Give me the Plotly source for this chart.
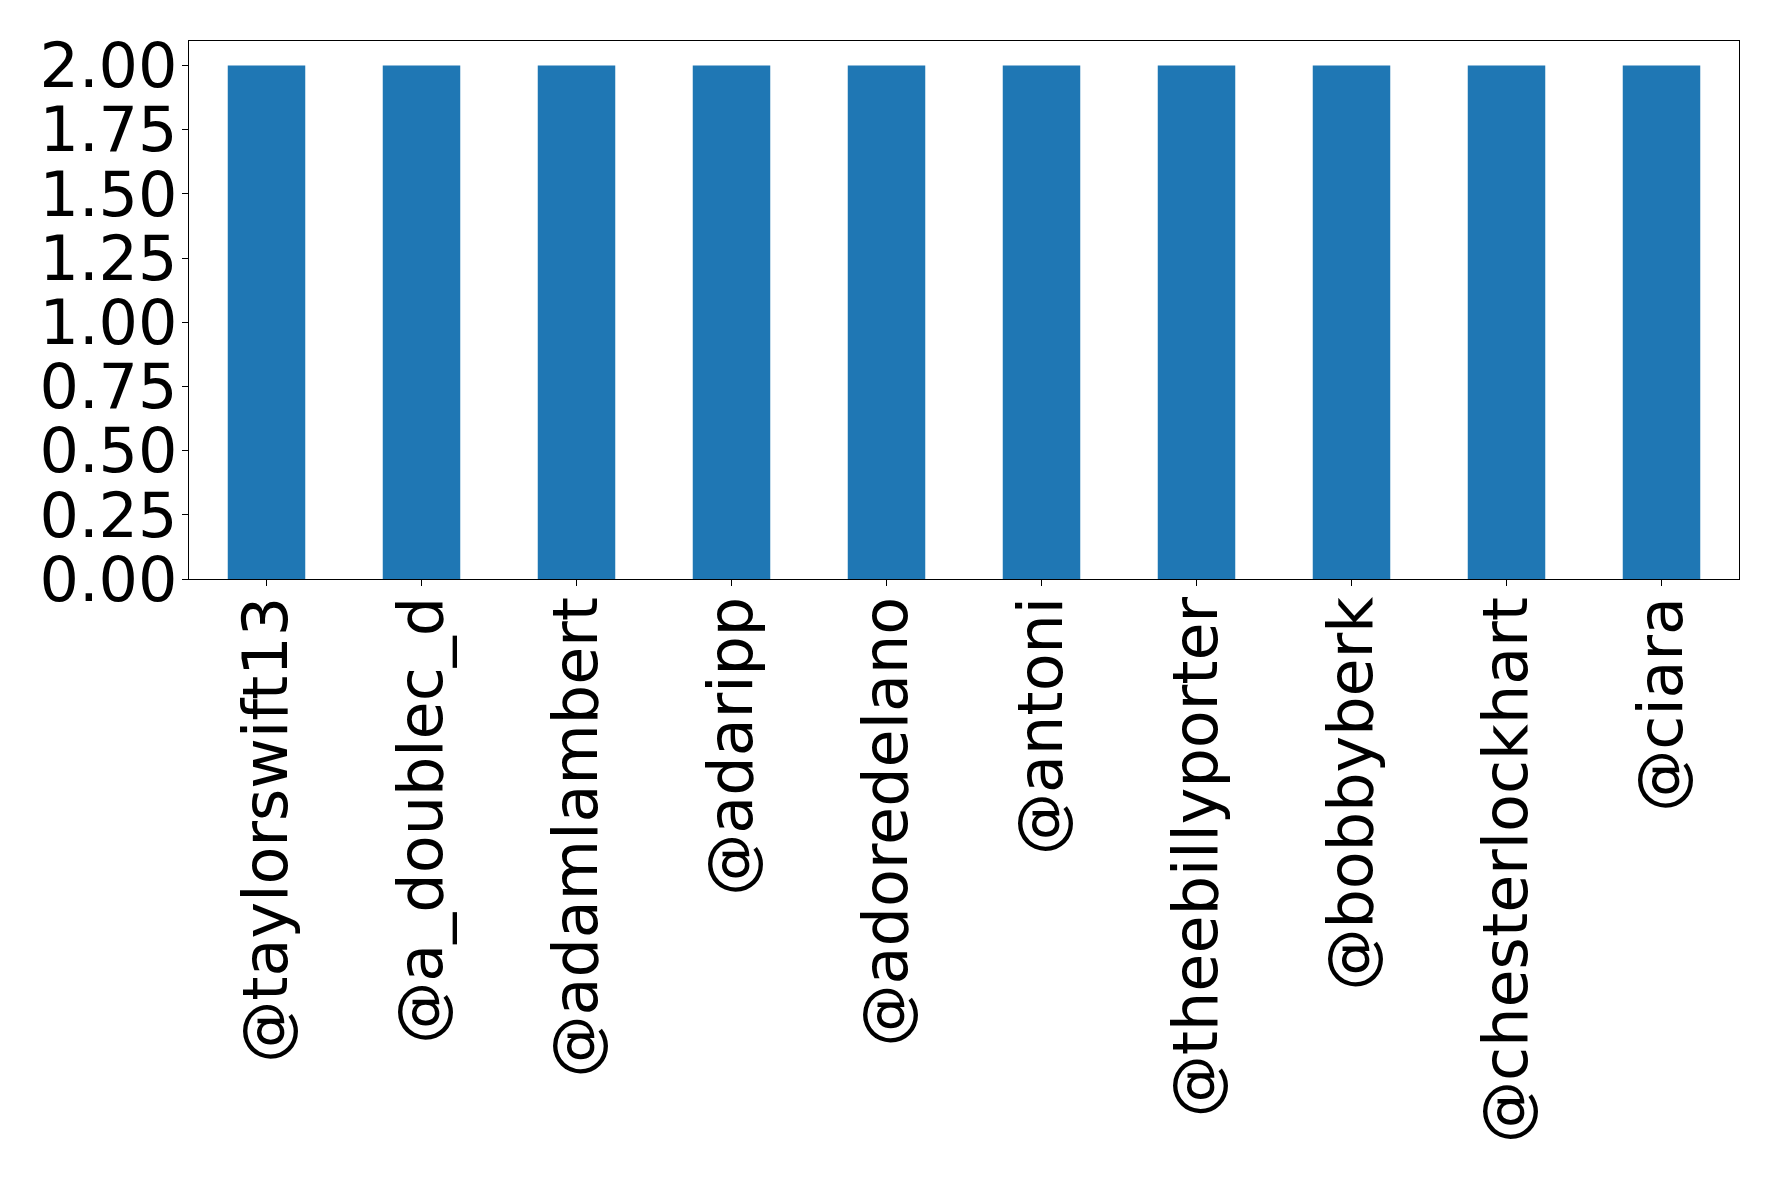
import plotly.graph_objects as go

categories = ["@taylorswift13", "@a_doublec_d", "@adamlambert", "@adaripp", "@adoredelano",
              "@antoni", "@theebillyporter", "@bobbyberk", "@chesterlockhart", "@ciara"]
values = [2, 2, 2, 2, 2, 2, 2, 2, 2, 2]
ytick_vals = [0, 0.25, 0.5, 0.75, 1.0, 1.25, 1.5, 1.75, 2.0]
ytick_text = ["0.00", "0.25", "0.50", "0.75", "1.00", "1.25", "1.50", "1.75", "2.00"]

fig = go.Figure(go.Bar(x=list(range(len(categories))), y=values, width=0.5,
                       marker=dict(color="#1f77b4", line=dict(width=0))))

font = dict(family="DejaVu Sans", size=62, color="black")
fig.update_layout(
    width=1778, height=1179,
    margin=dict(l=181, r=47, t=33, b=608),
    paper_bgcolor="white", plot_bgcolor="white",
    showlegend=False,
    font=font,
)
fig.update_xaxes(range=[-0.5, 9.5], tickmode="array", tickvals=list(range(len(categories))),
                 ticktext=categories, tickangle=-90, ticks="outside", ticklen=6, tickwidth=1,
                 tickcolor="black", showline=True, linecolor="black", linewidth=1.2, mirror=True,
                 showgrid=False, zeroline=False, tickfont=font, ticklabelstandoff=-14)
fig.update_yaxes(range=[0, 2.0958], tickmode="array", tickvals=ytick_vals, ticktext=ytick_text,
                 ticks="outside", ticklen=6, tickwidth=1, tickcolor="black",
                 showline=True, linecolor="black", linewidth=1.2, mirror=True,
                 showgrid=False, zeroline=False, tickfont=font, ticklabelstandoff=-8)

fig.write_html("out.html")
